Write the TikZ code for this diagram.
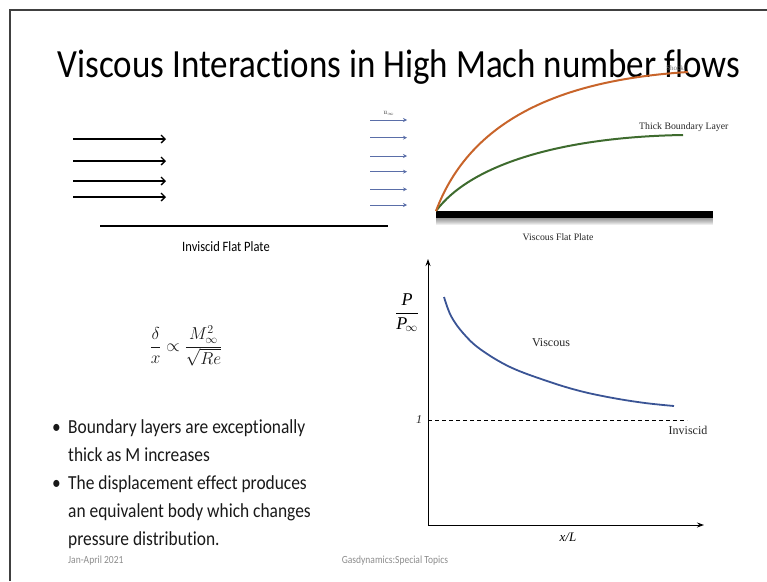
\documentclass[tikz,border=0pt]{standalone}
\usepackage{fontspec}
\setmainfont{Carlito}[FakeStretch=0.875,Ligatures=NoCommon]
\newfontfamily\serif{Liberation Serif}
\usetikzlibrary{arrows.meta}
\definecolor{borderc}{HTML}{404040}
\definecolor{flowblue}{HTML}{5A6EA8}
\definecolor{shockorange}{HTML}{C8642A}
\definecolor{blgreen}{HTML}{3E6B2E}
\definecolor{curveblue}{HTML}{3A5495}
\definecolor{footgrey}{HTML}{8C8C8C}
\tikzset{
  blackarrow/.style={line width=1.3pt,-{Straight Barb[length=4pt,width=8pt]}},
  bluearrow/.style={flowblue,line width=0.9pt,-{Stealth[length=4pt,width=4pt]}},
  axisline/.style={line width=1pt,-{Stealth[length=7pt,width=5pt]}},
  seriflabel/.style={font=\serif\fontsize{12}{14}\selectfont,text=black!85},
  smallserif/.style={font=\serif\fontsize{9.8}{12}\selectfont,text=black!85},
  bullettext/.style={font=\fontsize{19.9}{24}\selectfont,text=black!90,anchor=base west,inner sep=0pt},
  footer/.style={font=\fontsize{10.9}{13}\selectfont,text=footgrey,anchor=base,inner sep=0pt},
}
\begin{document}
\begin{tikzpicture}[x=1pt,y=-1pt]
\useasboundingbox (0,0) rectangle (767,581);
\draw[borderc,line width=1.5pt] (10,581) -- (10,10) -- (767,10);

% title
\node[anchor=base,inner sep=0pt,font=\fontsize{40}{46}\selectfont] (title) at (399,77) {Viscous Interactions in High Mach number flows};

% inviscid flat plate
\foreach \yy [count=\i] in {139,161,181,197} {
  \coordinate (bs\i) at (73,\yy);
  \coordinate (be\i) at (166,\yy);
  \draw[blackarrow] (bs\i) -- (be\i);
}
\coordinate (ipa) at (100,226);
\coordinate (ipb) at (388,226);
\draw[line width=1.8pt] (ipa) -- (ipb);
\node[anchor=base,inner sep=0pt,font=\fontsize{14.3}{17}\selectfont] (iplab) at (226,251) {Inviscid Flat Plate};

% viscous flat plate
\foreach \yy [count=\i] in {120,137.7,156,171.7,189.3,205} {
  \coordinate (us\i) at (370,\yy);
  \coordinate (ue\i) at (407,\yy);
  \draw[bluearrow] (us\i) -- (ue\i);
}
\node[font=\serif\fontsize{7}{8}\selectfont,text=black!70,inner sep=0pt] (uinf) at (389,113) {u$_{\infty}$};
\foreach \k in {1,...,7} {
  \fill[black,opacity=0.07] (436,218) rectangle (713,218+\k);
}
\node[fill=black,minimum width=277pt,minimum height=7pt,inner sep=0pt,anchor=north west] (plate) at (436,211) {};
\node[smallserif,anchor=base,inner sep=0pt] (vplab) at (558,240) {Viscous Flat Plate};

\coordinate (blend) at (683,135);
\coordinate (shend) at (688,72);
\draw[blgreen,line width=2pt] (plate.north west) .. controls (470,165) and (560,137) .. (blend);
\draw[shockorange,line width=2pt] (plate.north west) .. controls (470,120) and (560,80) .. (shend);
\node[font=\serif\fontsize{7}{8}\selectfont,text=black!55,inner sep=0pt] (shock) at (675,68) {Shock};
\node[smallserif,anchor=base west,inner sep=0pt] (bllab) at (639,129) {Thick Boundary Layer};

% formula
\node[font=\fontsize{17}{20}\selectfont,text=black!90] (formula) at (186,346) {$\displaystyle\frac{\delta}{x}\propto\frac{M_\infty^2}{\sqrt{Re}}$};

% plot
\coordinate (O) at (428,525);
\coordinate (ytop) at (428,259);
\coordinate (xend) at (704,525);
\draw[axisline] (O) -- (ytop);
\draw[axisline] (O) -- (xend);
\node[font=\fontsize{18}{21}\selectfont] (plab) at (407,313) {$\displaystyle\frac{\hbox{\serif\itshape P}}{\hbox{\serif\itshape P}_{\!\infty}}$};
\node[seriflabel,font=\serif\itshape\fontsize{12}{14}\selectfont] (one) at (419,420) {1};
\coordinate (da) at (428,420);
\coordinate (db) at (687,420);
\draw[line width=1pt,dash pattern=on 4pt off 3pt] (da) -- (db);
\node[seriflabel] (invlab) at (688,430) {Inviscid};
\draw[curveblue,line width=1.8pt] plot[smooth,tension=0.6] coordinates {(444,297) (451,316) (463,333) (480,349) (510,367) (547,381) (580,391) (613,398) (645,403) (674,406)};
\node[seriflabel] (vislab) at (551,343) {Viscous};
\node[font=\serif\itshape\fontsize{13}{15}\selectfont] (xlab) at (568,537) {x/L};

% bullets
\node[bullettext] (b1) at (52,433) {•};
\node[bullettext] (l1) at (68,433) {Boundary layers are exceptionally};
\node[bullettext] (l2) at (68,461) {thick as M increases};
\node[bullettext] (b2) at (52,489) {•};
\node[bullettext] (l3) at (68,489) {The displacement effect produces};
\node[bullettext] (l4) at (68,517) {an equivalent body which changes};
\node[bullettext] (l5) at (68,545) {pressure distribution.};

% footer
\node[footer,anchor=base west] (date) at (68,563) {Jan-April 2021};
\node[footer] (course) at (395,563) {Gasdynamics:Special Topics};
\end{tikzpicture}
\end{document}
